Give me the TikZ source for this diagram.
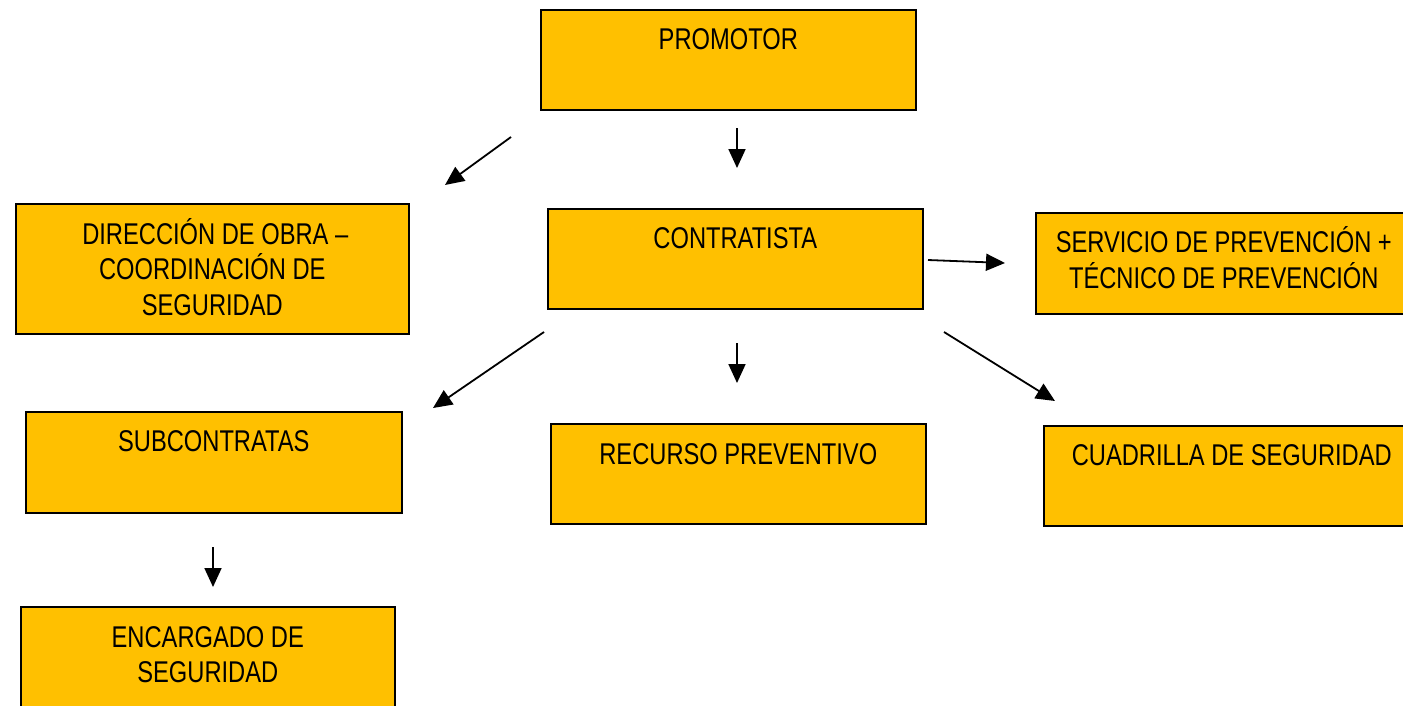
\documentclass[tikz,border=0pt]{standalone}
\usepackage{fontspec}
\setmainfont{Liberation Sans}[FakeStretch=0.79]
\usetikzlibrary{arrows.meta}
\definecolor{boxfill}{HTML}{FFC000}
\begin{document}
\begin{tikzpicture}[x=1pt,y=-1pt,
  box/.style={draw=black,line width=1.6pt,fill=boxfill,rectangle,inner sep=0pt,anchor=north west},
  lbl/.style={anchor=base,inner sep=0pt,font=\fontsize{30}{35}\selectfont},
  arr/.style={line width=1.8pt,-{Triangle[length=19pt,width=17pt]}}]
\clip (0,0) rectangle (1403,705);
\fill[white] (0,0) rectangle (1403,705);
% boxes
\node[box,minimum width=375pt,minimum height=100pt] (promotor) at (540,9) {};
\node[box,minimum width=393pt,minimum height=130pt] (direccion) at (15,203) {};
\node[box,minimum width=375pt,minimum height=100pt] (contratista) at (547,208) {};
\node[box,minimum width=376pt,minimum height=101pt] (servicio) at (1035,212) {};
\node[box,minimum width=376pt,minimum height=101pt] (subcontratas) at (25,411) {};
\node[box,minimum width=375pt,minimum height=100pt] (recurso) at (550,423) {};
\node[box,minimum width=376pt,minimum height=100pt] (cuadrilla) at (1043,425) {};
\node[box,minimum width=374pt,minimum height=110pt] (encargado) at (20,606) {};
% labels
\node[lbl] (tpromotor) at ([yshift=-40pt]promotor.north) {PROMOTOR};
\node[lbl] (tdir1) at ([xshift=3pt,yshift=-41pt]direccion.north) {DIRECCIÓN DE OBRA –};
\node[lbl] (tdir2) at ([yshift=-76.5pt]direccion.north) {COORDINACIÓN DE};
\node[lbl] (tdir3) at ([yshift=-112pt]direccion.north) {SEGURIDAD};
\node[lbl] (tcontratista) at ([yshift=-40pt]contratista.north) {CONTRATISTA};
\node[lbl] (tserv1) at ([yshift=-40pt]servicio.north) {SERVICIO DE PREVENCIÓN +};
\node[lbl] (tserv2) at ([yshift=-76pt]servicio.north) {TÉCNICO DE PREVENCIÓN};
\node[lbl] (tsub) at ([yshift=-40pt]subcontratas.north) {SUBCONTRATAS};
\node[lbl] (trec) at ([yshift=-41pt]recurso.north) {RECURSO PREVENTIVO};
\node[lbl] (tcuad) at ([yshift=-40pt]cuadrilla.north) {CUADRILLA DE SEGURIDAD};
\node[lbl] (tenc1) at ([yshift=-41pt]encargado.north) {ENCARGADO DE};
\node[lbl] (tenc2) at ([yshift=-76pt]encargado.north) {SEGURIDAD};
% arrow end points
\coordinate (a1s) at (511,137); \coordinate (a1e) at (445,185);
\coordinate (a2s) at (737,128); \coordinate (a2e) at (737,168);
\coordinate (a3s) at (928,260); \coordinate (a3e) at (1005,263);
\coordinate (a4s) at (544,332); \coordinate (a4e) at (433,408);
\coordinate (a5s) at (737,343); \coordinate (a5e) at (737,383);
\coordinate (a6s) at (944,332); \coordinate (a6e) at (1055,401);
\coordinate (a7s) at (213,547); \coordinate (a7e) at (213,587);
\draw[arr] (a1s) -- (a1e);
\draw[arr] (a2s) -- (a2e);
\draw[arr] (a3s) -- (a3e);
\draw[arr] (a4s) -- (a4e);
\draw[arr] (a5s) -- (a5e);
\draw[arr] (a6s) -- (a6e);
\draw[arr] (a7s) -- (a7e);
\end{tikzpicture}
\end{document}
